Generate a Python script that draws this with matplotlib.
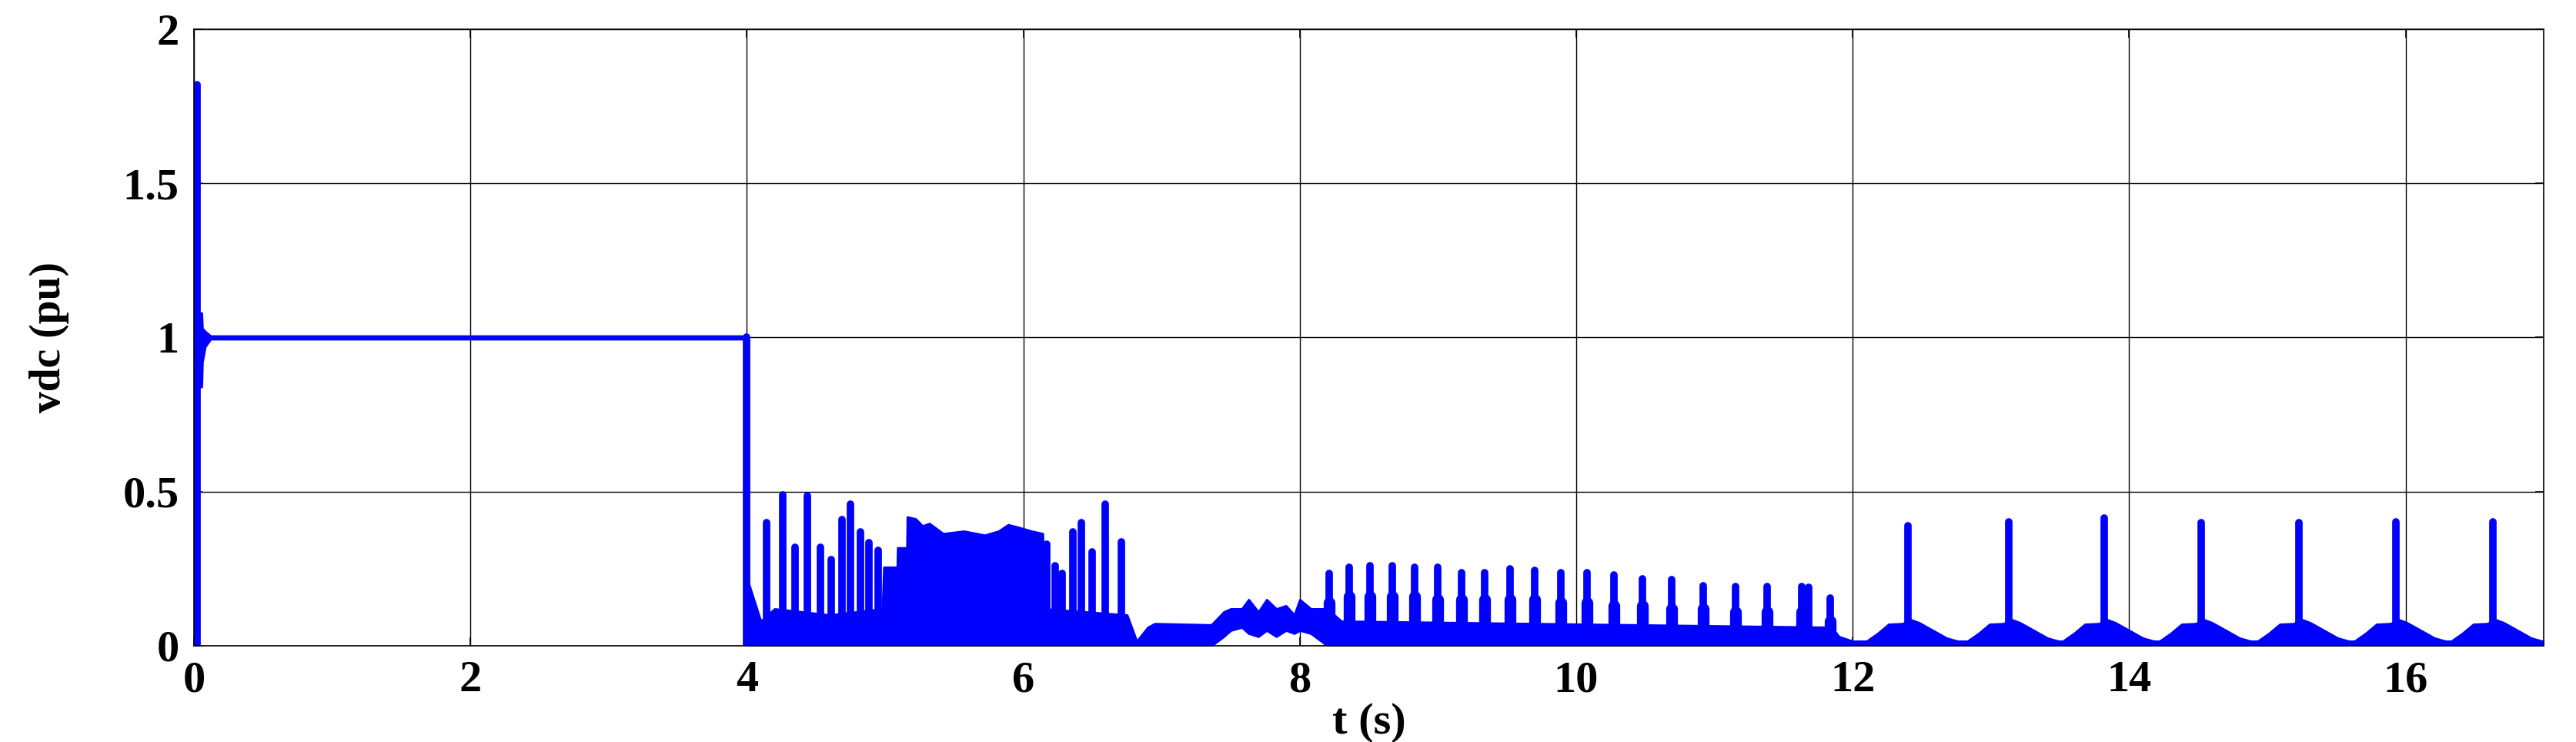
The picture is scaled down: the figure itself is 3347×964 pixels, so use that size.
import matplotlib
matplotlib.use("Agg")
import matplotlib.pyplot as plt

# spikes (time in s, peak in pu)
spike_t = [0.02, 4.0, 4.14, 4.26, 4.35, 4.44, 4.53, 4.61, 4.69, 4.75, 4.82, 4.88, 4.95,
           6.17, 6.23, 6.28, 6.36, 6.42, 6.50, 6.59, 6.71,
           8.21, 8.36, 8.51, 8.67, 8.83, 9.00, 9.17, 9.34, 9.52, 9.70, 9.89, 10.08,
           10.27, 10.48, 10.69, 10.92, 11.15, 11.38, 11.63, 11.68, 11.84,
           12.40, 13.13, 13.82, 14.52, 15.23, 15.93, 16.63]
spike_v = [1.82, 1.0, 0.40, 0.49, 0.32, 0.487, 0.32, 0.28, 0.41, 0.46, 0.37, 0.335, 0.31,
           0.33, 0.26, 0.235, 0.37, 0.40, 0.305, 0.46, 0.337,
           0.235, 0.255, 0.26, 0.26, 0.255, 0.255, 0.237, 0.237, 0.25, 0.245, 0.237, 0.237,
           0.23, 0.218, 0.215, 0.195, 0.193, 0.193, 0.193, 0.19, 0.154,
           0.39, 0.403, 0.415, 0.40, 0.40, 0.403, 0.403]

# broad base of the 8-12 s spikes
shoulder_t = [8.21, 8.36, 8.51, 8.67, 8.83, 9.00, 9.17, 9.34, 9.52, 9.70, 9.89, 10.08,
              10.27, 10.48, 10.69, 10.92, 11.15, 11.38, 11.63, 11.84]
shoulder_v = [0.14, 0.16, 0.16, 0.16, 0.16, 0.15, 0.15, 0.15, 0.15, 0.15, 0.14, 0.14,
              0.13, 0.13, 0.12, 0.12, 0.11, 0.11, 0.11, 0.08]

# oscillation band (lower / upper envelope)
band_t = [0.02, 0.055, 0.06, 0.08, 0.12, 3.99, 4.0, 4.05, 4.1, 4.2, 4.6, 4.98,
          4.99, 5.087, 5.09, 5.157, 5.16, 5.22, 5.27, 5.32, 5.42, 5.57, 5.72, 5.82,
          5.89, 5.96, 6.06, 6.14, 6.15, 6.75, 6.82, 6.9, 6.95, 7.36, 7.45, 7.5, 7.58,
          7.63, 7.70, 7.76, 7.83, 7.9, 7.96, 8.0, 8.08, 8.2, 8.3, 11.85, 11.9, 12.0, 17.0]
band_lo = [0.84, 0.84, 0.92, 0.97, 0.995, 0.995, 0.0, 0.0, 0.0, 0.0, 0.0, 0.0,
           0.0, 0.0, 0.0, 0.0, 0.0, 0.0, 0.0, 0.0, 0.0, 0.0, 0.0, 0.0,
           0.0, 0.0, 0.0, 0.0, 0.0, 0.0, 0.0, 0.0, 0.0, 0.0, 0.03, 0.05, 0.06,
           0.04, 0.03, 0.05, 0.03, 0.05, 0.04, 0.05, 0.04, 0.0, 0.0, 0.0, 0.0, 0.0, 0.0]
band_hi = [1.08, 1.08, 1.03, 1.02, 1.005, 1.005, 0.22, 0.15, 0.08, 0.12, 0.10, 0.12,
           0.255, 0.255, 0.318, 0.318, 0.418, 0.412, 0.389, 0.397, 0.364, 0.372, 0.359, 0.372,
           0.393, 0.385, 0.372, 0.364, 0.12, 0.10, 0.015, 0.06, 0.072, 0.068, 0.11, 0.12, 0.12,
           0.15, 0.11, 0.15, 0.12, 0.13, 0.10, 0.15, 0.12, 0.12, 0.08, 0.06, 0.03, 0.015, 0.015]

# hump around each late spike (offset from spike, value)
hump_dt = [-0.30, -0.22, -0.14, -0.04, 0.02, 0.08, 0.18, 0.28, 0.36]
hump_v = [0.015, 0.04, 0.07, 0.072, 0.085, 0.075, 0.05, 0.025, 0.015]
hump_centers = [12.40, 13.13, 13.82, 14.52, 15.23, 15.93, 16.63]

xticks = [0, 2, 4, 6, 8, 10, 12, 14, 16]
yticks = [0, 0.5, 1, 1.5, 2]
ytick_labels = ["0", "0.5", "1", "1.5", "2"]

blue = (0, 0, 1)
font = dict(family="Liberation Serif", weight="bold")

fig = plt.figure(figsize=(33.48, 9.64), dpi=100)
ax = fig.add_axes([0.0753, 0.1297, 0.9119, 0.8309])

ax.fill_between(band_t, band_lo, band_hi, color=blue, lw=2, edgecolor=blue)
for c in hump_centers:
    ht = [c + d for d in hump_dt]
    ax.fill_between(ht, 0, hump_v, color=blue, lw=2, edgecolor=blue)
ax.vlines(shoulder_t, 0, shoulder_v, colors=[blue], lw=11, capstyle="round")
ax.vlines(spike_t, 0, spike_v, colors=[blue], lw=7, capstyle="round")

ax.set_xlim(0, 17)
ax.set_ylim(0, 2)
ax.set_xticks(xticks)
ax.set_xticklabels([str(v) for v in xticks], **font, fontsize=42)
ax.set_yticks(yticks)
ax.set_yticklabels(ytick_labels, **font, fontsize=42)
ax.tick_params(direction="in", top=True, right=True, length=8, width=1.2, pad=14)
ax.grid(True, color="k", lw=1.0)
ax.set_axisbelow(True)
for s in ax.spines.values():
    s.set_linewidth(1.2)

ax.set_xlabel("t (s)", **font, fontsize=42, labelpad=2)
ax.set_ylabel("vdc (pu)", **font, fontsize=40, labelpad=50)

fig.savefig("out.png", dpi=100)
